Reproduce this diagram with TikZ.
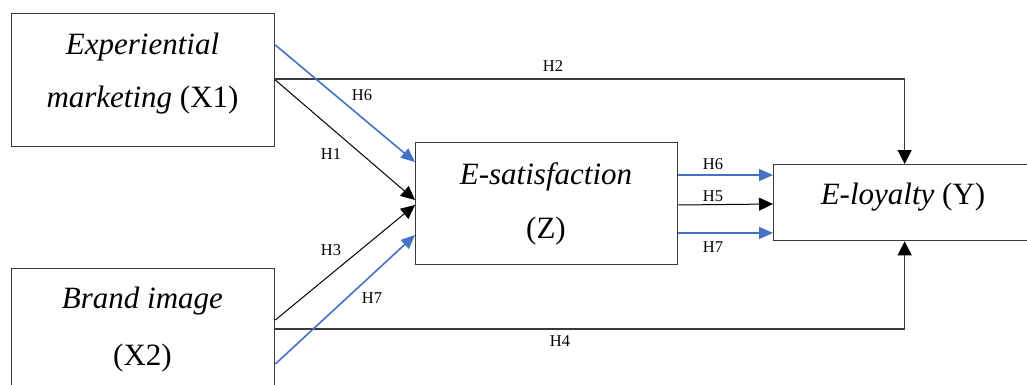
\documentclass[tikz,border=0pt]{standalone}
\usepackage{fontspec}
\setmainfont{Liberation Serif}
\newfontfamily\bigserif{Liberation Serif}
\usetikzlibrary{arrows.meta}
\definecolor{myblue}{HTML}{4472C4}
\definecolor{boxgray}{HTML}{3A3A3A}
\tikzset{
  box/.style={draw=boxgray, line width=1.3pt, rectangle, anchor=north west, inner sep=0pt},
  big/.style={anchor=base, inner sep=0pt, font=\bigserif\fontsize{31}{37}\selectfont},
  lab/.style={inner sep=0pt, font=\fontsize{16.5}{19}\selectfont},
  blk/.style={-{Triangle[length=14pt,width=13pt]}, draw=black, line width=1pt},
  blu/.style={-{Triangle[length=14pt,width=12pt]}, draw=myblue, line width=1.6pt},
  grl/.style={-{Triangle[length=14pt,width=14pt,black]}, draw=boxgray, line width=1.3pt}
}
\begin{document}
\begin{tikzpicture}[x=1pt,y=-1pt]
\clip (0,0) rectangle (1027,385);
\fill[white] (0,0) rectangle (1027,385);
% boxes
\node[box, minimum width=263pt, minimum height=133pt] (x1) at (11,13) {};
\node[box, minimum width=263pt, minimum height=133pt] (x2) at (11,268) {};
\node[box, minimum width=262pt, minimum height=122pt] (z) at (415,142) {};
\node[box, minimum width=262pt, minimum height=76pt] (y) at (773,164) {};
% texts
\node[big] (x1a) at (142.5,55) {\textit{Experiential}};
\node[big] (x1b) at (142.5,108) {\textit{marketing} (X1)};
\node[big] (x2a) at (142.5,308) {\textit{Brand image}};
\node[big] (x2b) at (142.5,365) {(X2)};
\node[big] (za) at (546,184) {\textit{E-satisfaction}};
\node[big] (zb) at (546,238) {(Z)};
\node[big] (ya) at (903,204) {\textit{E-loyalty} (Y)};
% connectors
\draw[grl] ([yshift=-66pt]x1.north east) -| (y.north);
\draw[grl] ([yshift=-61pt]x2.north east) -| (y.south);
\draw[blu] ([yshift=-32pt]x1.north east) -- ([yshift=-20pt]z.north west);
\draw[blk] ([yshift=-67pt]x1.north east) -- ([yshift=-58pt]z.north west);
\draw[blk] ([yshift=-52pt]x2.north east) -- ([yshift=-63pt]z.north west);
\draw[blu] ([yshift=-96pt]x2.north east) -- ([yshift=-93pt]z.north west);
\draw[blu] ([yshift=-33pt]z.north east) -- ([yshift=-11pt]y.north west);
\draw[blk] ([yshift=-63pt]z.north east) -- ([yshift=-40pt]y.north west);
\draw[blu] ([yshift=-91pt]z.north east) -- ([yshift=-69pt]y.north west);
% labels
\node[lab] (l2) at (553,66) {H2};
\node[lab] (l4) at (560,341) {H4};
\node[lab] (l6a) at (362,95) {H6};
\node[lab] (l1) at (331,154) {H1};
\node[lab] (l3) at (331,250) {H3};
\node[lab] (l7a) at (372,298) {H7};
\node[lab] (l6b) at (713,164) {H6};
\node[lab] (l5) at (713,196) {H5};
\node[lab] (l7b) at (713,247) {H7};
\end{tikzpicture}
\end{document}
